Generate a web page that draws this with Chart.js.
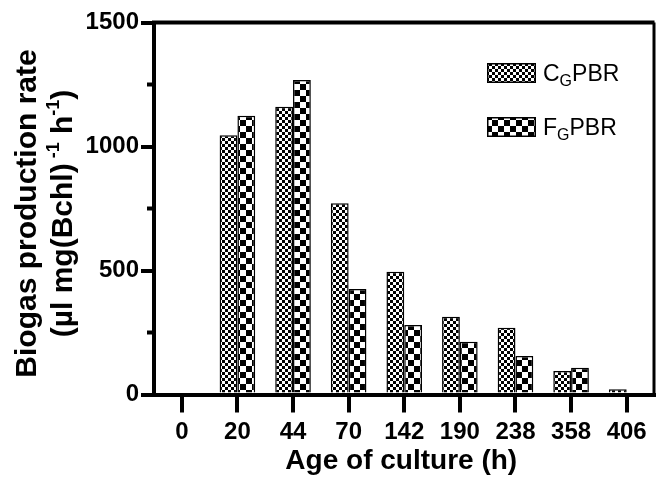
<!DOCTYPE html>
<html>
<head>
<meta charset="utf-8">
<script src="https://cdn.jsdelivr.net/npm/chart.js@4/dist/chart.umd.min.js"></script>
<style>
  html, body { margin: 0; padding: 0; background: #fff; }
  #wrap { width: 656px; height: 482px; position: relative; }
</style>
</head>
<body>
<div id="wrap"><canvas id="chart"></canvas></div>
<script>
// Age of culture (h) and biogas production rate for the two photobioreactors
const ageLabels = ['0', '20', '44', '70', '142', '190', '238', '358', '406'];
const cgValues = [0, 1045, 1160, 771, 495, 314, 269, 95, 21];
const fgValues = [0, 1124, 1268, 425, 280, 213, 155, 108, 0];
const yTickValues = [0, 500, 1000, 1500];
const yMinorValues = [250, 750, 1250];

const FONT = "'Liberation Sans', Arial, Helvetica, sans-serif";

// black/white checkerboard fill, cell = square size in px
function checker(cell) {
  const c = document.createElement('canvas');
  c.width = c.height = cell * 2;
  const g = c.getContext('2d');
  g.fillStyle = '#fff';
  g.fillRect(0, 0, cell * 2, cell * 2);
  g.fillStyle = '#000';
  g.fillRect(0, 0, cell, cell);
  g.fillRect(cell, cell, cell, cell);
  return g.createPattern(c, 'repeat');
}
const finePattern = checker(3);
const coarsePattern = checker(6);

// draw a run of text pieces (normal / sub / superscript) starting at x
function drawRuns(ctx, runs, x, y) {
  let cx = x;
  for (const r of runs) {
    ctx.font = r.font;
    ctx.fillText(r.t, cx, y + (r.dy || 0));
    cx += ctx.measureText(r.t).width;
  }
  return cx - x;
}
function runsWidth(ctx, runs) {
  let w = 0;
  for (const r of runs) { ctx.font = r.font; w += ctx.measureText(r.t).width; }
  return w;
}

// axis titles, minor ticks, frame and legend
const decorations = {
  id: 'decorations',
  afterDraw(chart) {
    const ctx = chart.ctx;
    const area = chart.chartArea;
    const yScale = chart.scales.y;
    ctx.save();
    ctx.fillStyle = '#000';
    ctx.strokeStyle = '#000';

    // minor ticks on the value axis
    ctx.lineWidth = 4;
    for (const v of yMinorValues) {
      const py = yScale.getPixelForValue(v);
      ctx.beginPath();
      ctx.moveTo(area.left - 7, py);
      ctx.lineTo(area.left, py);
      ctx.stroke();
    }

    // top and right frame
    ctx.lineWidth = 4;
    ctx.beginPath();
    ctx.moveTo(area.left - 2, area.top);
    ctx.lineTo(area.right, area.top);
    ctx.stroke();
    ctx.lineWidth = 3;
    ctx.beginPath();
    ctx.moveTo(area.right - 0.5, area.top);
    ctx.lineTo(area.right - 0.5, area.bottom);
    ctx.stroke();

    // y-axis title, two lines
    const midY = (area.top + area.bottom) / 2 + 5;
    const big = 'bold 30px ' + FONT;
    const sup = 'bold 18px ' + FONT;
    ctx.save();
    ctx.translate(0, midY);
    ctx.rotate(-Math.PI / 2);
    ctx.textBaseline = 'alphabetic';
    ctx.textAlign = 'left';
    const line1 = [{ t: 'Biogas production rate', font: big }];
    drawRuns(ctx, line1, -runsWidth(ctx, line1) / 2, 36);
    const line2 = [
      { t: '(\u00b5l mg(Bchl)', font: big },
      { t: ' -1', font: sup, dy: -13 },
      { t: ' h', font: big },
      { t: '-1', font: sup, dy: -13 },
      { t: ')', font: big }
    ];
    drawRuns(ctx, line2, -runsWidth(ctx, line2) / 2, 72);
    ctx.restore();

    // x-axis title
    ctx.font = 'bold 28px ' + FONT;
    ctx.textAlign = 'center';
    ctx.textBaseline = 'alphabetic';
    ctx.fillText('Age of culture (h)', (area.left + area.right) / 2 - 3, 469);

    // legend
    const items = chart.data.datasets;
    const rowY = [73, 127];
    items.forEach((ds, i) => {
      const y0 = rowY[i] - 10;
      ctx.fillStyle = ds.backgroundColor;
      ctx.fillRect(487, y0, 49, 20);
      ctx.lineWidth = 1.5;
      ctx.strokeStyle = '#000';
      ctx.strokeRect(487.75, y0 + 0.75, 47.5, 18.5);
      ctx.fillStyle = '#000';
      ctx.textAlign = 'left';
      ctx.textBaseline = 'alphabetic';
      const reg = '23px ' + FONT;
      const sub = '16px ' + FONT;
      drawRuns(ctx, [
        { t: ds.label.charAt(0), font: reg },
        { t: 'G', font: sub, dy: 5 },
        { t: 'PBR', font: reg }
      ], 543, rowY[i] + 8);
    });
    ctx.restore();
  }
};

new Chart(document.getElementById('chart'), {
  type: 'bar',
  data: {
    labels: ageLabels,
    datasets: [
      {
        label: 'CGPBR',
        data: cgValues,
        backgroundColor: finePattern,
        borderColor: '#000',
        borderWidth: 1.5
      },
      {
        label: 'FGPBR',
        data: fgValues,
        backgroundColor: coarsePattern,
        borderColor: '#000',
        borderWidth: 1.5
      }
    ]
  },
  options: {
    responsive: true,
    maintainAspectRatio: false,
    animation: false,
    devicePixelRatio: 1,
    layout: { padding: { left: 0, right: 1.5, top: 22.5, bottom: 0 } },
    datasets: {
      bar: { categoryPercentage: 0.64, barPercentage: 1.0 }
    },
    plugins: {
      legend: { display: false },
      tooltip: { enabled: false },
      title: { display: false }
    },
    scales: {
      x: {
        type: 'category',
        offset: true,
        afterFit(scale) { scale.height = 87.5; },
        grid: {
          display: true,
          offset: false,
          drawOnChartArea: false,
          drawTicks: true,
          tickLength: 18,
          lineWidth: 4,
          color: '#000'
        },
        border: { display: true, width: 4, color: '#000' },
        ticks: {
          color: '#000',
          font: { family: FONT, size: 24, weight: 'bold' },
          padding: 5,
          maxRotation: 0,
          autoSkip: false
        }
      },
      y: {
        min: 0,
        max: 1500,
        afterFit(scale) { scale.width = 154; },
        afterBuildTicks(scale) { scale.ticks = yTickValues.map(v => ({ value: v })); },
        grid: {
          display: true,
          drawOnChartArea: false,
          drawTicks: true,
          tickLength: 13,
          lineWidth: 4,
          color: '#000'
        },
        border: { display: true, width: 4, color: '#000' },
        ticks: {
          color: '#000',
          font: { family: FONT, size: 24, weight: 'bold' },
          padding: 2,
          callback: (v) => String(v)
        }
      }
    }
  },
  plugins: [decorations]
});
</script>
</body>
</html>
